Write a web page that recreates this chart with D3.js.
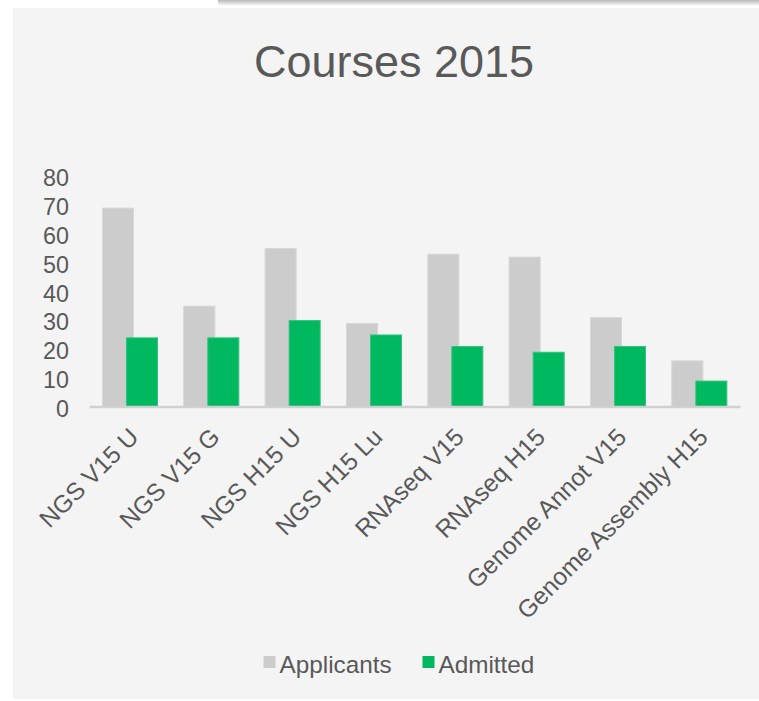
<!DOCTYPE html>
<html>
<head>
<meta charset="utf-8">
<script src="https://cdn.jsdelivr.net/npm/d3@7"></script>
<style>
  body { margin: 0; background: #ffffff; }
  svg { display: block; font-family: "Liberation Sans", Arial, sans-serif; }
</style>
</head>
<body>
<svg id="drawing_region"></svg>
<script>
const courses = ["NGS V15 U", "NGS V15 G", "NGS H15 U", "NGS H15 Lu",
                 "RNAseq V15", "RNAseq H15", "Genome Annot V15", "Genome Assembly H15"];
const applicants = [69, 35, 55, 29, 53, 52, 31, 16];
const admitted   = [24, 24, 30, 25, 21, 19, 21, 9];
const seriesNames = ["Applicants", "Admitted"];
const yTicks = [0, 10, 20, 30, 40, 50, 60, 70, 80];
const chartTitle = "Courses 2015";

class Barchart {

    constructor( config ) {
        this.config = config;
        this.data = courses.map( (c, i) => ({ course: c, applicants: applicants[i], admitted: admitted[i] }) );
        this.init();
    }

    init() {
        let self = this;
        const cfg = self.config;

        self.svg = d3.select( cfg.parent )
            .attr('width', cfg.width)
            .attr('height', cfg.height);

        // the shadowed bar of the slide above the chart
        const defs = self.svg.append('defs');
        const grad = defs.append('linearGradient')
            .attr('id', 'topshadow').attr('x1', 0).attr('y1', 0).attr('x2', 0).attr('y2', 1);
        grad.append('stop').attr('offset', '0%').attr('stop-color', '#8a8a8a');
        grad.append('stop').attr('offset', '100%').attr('stop-color', '#ffffff');
        self.svg.append('rect')
            .attr('x', 218).attr('y', -4).attr('width', 560).attr('height', 10).attr('rx', 4)
            .attr('fill', 'url(#topshadow)');

        // chart area background
        self.svg.append('rect')
            .attr('x', 13).attr('y', 8)
            .attr('width', cfg.width - 13).attr('height', 691)
            .attr('fill', '#f4f4f4');

        self.svg.append('text')
            .attr('x', 394).attr('y', 77)
            .attr('text-anchor', 'middle')
            .attr('font-size', 45)
            .attr('fill', '#595959')
            .text(chartTitle);

        self.xscale = d3.scaleBand()
            .domain(courses)
            .range([cfg.plot.left, cfg.plot.right])
            .paddingInner(0).paddingOuter(0);

        self.yscale = d3.scaleLinear()
            .domain([0, 80])
            .range([cfg.plot.bottom, cfg.plot.top]);

        self.chart = self.svg.append('g');
    }

    render() {
        let self = this;
        const bw = self.xscale.bandwidth();
        const barW = bw / 2.54;
        const step = barW * 0.75;
        const colors = { applicants: '#cccccc', admitted: '#00b85f' };
        const strokes = { applicants: '#d6d6d6', admitted: '#33c47e' };

        ['applicants', 'admitted'].forEach( (key, k) => {
            self.chart.append('g').selectAll('rect')
                .data(self.data)
                .join('rect')
                .attr('x', d => self.xscale(d.course) + bw / 2 - (barW + step) / 2 + k * step + 0.5)
                .attr('y', d => self.yscale(d[key]) + 0.5)
                .attr('width', barW - 1)
                .attr('height', d => self.yscale(0) - self.yscale(d[key]))
                .attr('fill', colors[key])
                .attr('stroke', strokes[key])
                .attr('stroke-width', 1);
        });

        // y axis labels
        const yaxis = d3.axisLeft(self.yscale).tickValues(yTicks).tickSize(0).tickPadding(0);
        const yg = self.chart.append('g')
            .attr('transform', `translate(69, 0)`)
            .call(yaxis);
        yg.select('.domain').remove();
        yg.selectAll('text')
            .attr('font-size', 23.3)
            .attr('font-family', '"Liberation Sans", Arial, sans-serif')
            .attr('fill', '#595959')
            .attr('dy', '0.42em');

        // x axis with rotated labels
        const xaxis = d3.axisBottom(self.xscale).tickSize(0).tickPadding(0);
        const xg = self.chart.append('g')
            .attr('transform', `translate(0, ${self.yscale(0)})`)
            .call(xaxis);
        xg.select('.domain')
            .attr('stroke', '#d0d0d0')
            .attr('stroke-width', 2.5);
        xg.selectAll('.tick text')
            .attr('font-size', 24.5)
            .attr('font-family', '"Liberation Sans", Arial, sans-serif')
            .attr('fill', '#595959')
            .attr('text-anchor', 'end')
            .attr('y', 0).attr('dy', 0)
            .attr('transform', 'translate(10, 32) rotate(-45)');

        // legend
        const legendColors = ['#cccccc', '#00b85f'];
        const legend = self.svg.append('g').selectAll('g')
            .data(seriesNames)
            .join('g')
            .attr('transform', (d, i) => `translate(${263.5 + i * 159}, 656)`);
        legend.append('rect')
            .attr('width', 12).attr('height', 12)
            .attr('fill', (d, i) => legendColors[i]);
        legend.append('text')
            .attr('x', 16).attr('y', 16.5)
            .attr('font-size', 24.3)
            .attr('fill', '#595959')
            .text(d => d);
    }
}

const barchart = new Barchart({
    parent: '#drawing_region',
    width: 759,
    height: 701,
    plot: { left: 89.3, right: 740, top: 176, bottom: 406.5 }
});
barchart.render();
</script>
</body>
</html>
